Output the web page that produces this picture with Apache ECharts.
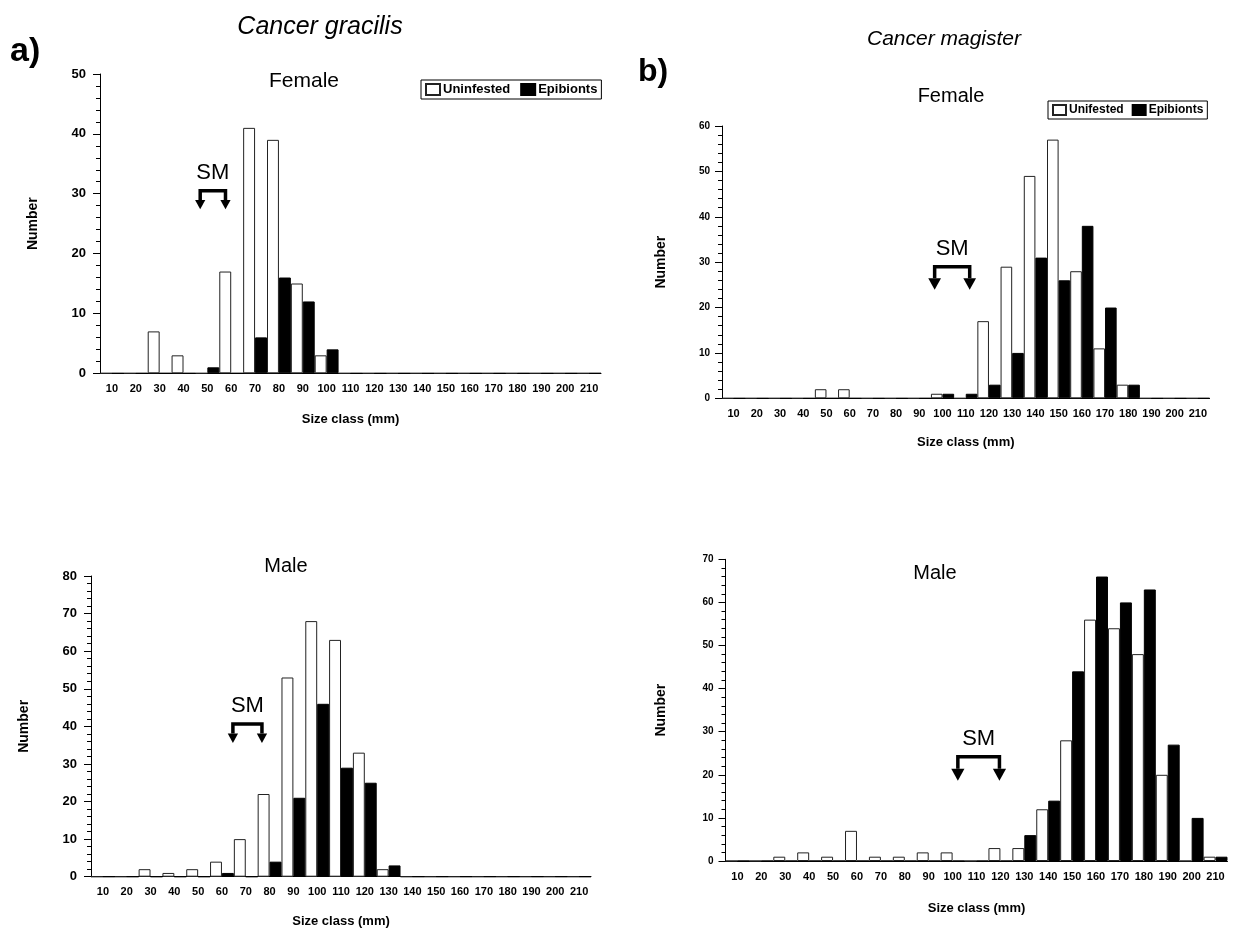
<!DOCTYPE html>
<html>
<head>
<meta charset="utf-8">
<script src="https://cdn.jsdelivr.net/npm/echarts@6/dist/echarts.min.js"></script>
<style>
html,body{margin:0;padding:0;background:#fff;}
#chart{width:1241px;height:932px;}
</style>
</head>
<body>
<div id="chart"></div>
<script>
// ---- Data ----
var sizeClasses = [10,20,30,40,50,60,70,80,90,100,110,120,130,140,150,160,170,180,190,200,210];

// Cancer gracilis, female
var gracFemUninfested = [0,0,7,3,0,17,41,39,15,3,0,0,0,0,0,0,0,0,0,0,0];
var gracFemEpibionts  = [0,0,0,0,1,0,6,16,12,4,0,0,0,0,0,0,0,0,0,0,0];
// Cancer gracilis, male
var gracMaleUninfested = [0,0,2,1,2,4,10,22,53,68,63,33,2,0,0,0,0,0,0,0,0];
var gracMaleEpibionts  = [0,0,0,0,0,1,0,4,21,46,29,25,3,0,0,0,0,0,0,0,0];
// Cancer magister, female
var magFemUninfested = [0,0,0,0,2,2,0,0,0,1,0,17,29,49,57,28,11,3,0,0,0];
var magFemEpibionts  = [0,0,0,0,0,0,0,0,0,1,1,3,10,31,26,38,20,3,0,0,0];
// Cancer magister, male
var magMaleUninfested = [0,0,1,2,1,7,1,1,2,2,0,3,3,12,28,56,54,48,20,0,1];
var magMaleEpibionts  = [0,0,0,0,0,0,0,0,0,0,0,0,6,14,44,66,60,63,27,10,1];

// Size at maturity brackets: [from mm, to mm, bracket top, arrow tip]
var smGracFemale = [47, 57.6, 30.5, 27.4];
var smGracMale   = [64.6, 76.8, 40.6, 35.6];
var smMagFemale  = [96.6, 111.7, 29.0, 23.9];
var smMagMale    = [102.2, 119.6, 24.2, 18.6];

var yMaxes = [50, 80, 60, 70];

// ---- Layout ----
var FONT = "'Liberation Sans', Arial, sans-serif";
var NARROW = "'Liberation Sans Narrow', 'Liberation Sans', Arial, sans-serif";
var grids = [
  {left:100, top:74, width:501, height:299.3},
  {left:91, top:576, width:500, height:300.7},
  {left:722, top:126, width:487.5, height:272.3},
  {left:725.5, top:559.3, width:502, height:301.7}
];
var yNameGaps = [60, 60, 54, 57];
var xNameGaps = [40, 38, 38, 41];
var yLabelSize = [13, 13, 10, 10];
var yLabelMargin = [14, 14, 12, 12];
var xLabelSize = [11, 11, 11, 11];

var panels = [
  {u: gracFemUninfested, e: gracFemEpibionts, uName:'Uninfested', sm: smGracFemale},
  {u: gracMaleUninfested, e: gracMaleEpibionts, uName:'Uninfested', sm: smGracMale},
  {u: magFemUninfested, e: magFemEpibionts, uName:'Unifested', sm: smMagFemale},
  {u: magMaleUninfested, e: magMaleEpibionts, uName:'Unifested', sm: smMagMale}
];

var xAxes = [], yAxes = [], series = [];
panels.forEach(function(p, i){
  xAxes.push({
    type:'category', gridIndex:i, data: sizeClasses.map(String), boundaryGap:true,
    axisLine:{lineStyle:{color:'#000', width:1}},
    axisTick:{alignWithLabel:true, length:7, lineStyle:{color:'#000'}},
    axisLabel:{color:'#000', fontWeight:'bold', fontSize:xLabelSize[i], fontFamily:FONT, margin:10, interval:0},
    name:'Size class (mm)', nameLocation:'middle', nameGap:xNameGaps[i],
    nameTextStyle:{color:'#000', fontWeight:'bold', fontSize:13, fontFamily:NARROW}
  });
  xAxes.push({type:'value', gridIndex:i, min:5, max:215, show:false});
  yAxes.push({
    type:'value', gridIndex:i, min:0, max:yMaxes[i], interval:10,
    splitLine:{show:false},
    axisLine:{show:true, lineStyle:{color:'#000', width:1}},
    axisTick:{show:true, length:7, lineStyle:{color:'#000'}},
    minorTick:{show:true, splitNumber:5, length:4, lineStyle:{color:'#000'}},
    axisLabel:{color:'#000', fontWeight:'bold', fontSize:yLabelSize[i], fontFamily:FONT, margin:yLabelMargin[i]},
    name:'Number', nameLocation:'middle', nameGap:yNameGaps[i], nameRotate:90,
    nameTextStyle:{color:'#000', fontWeight:'bold', fontSize:14, fontFamily:FONT}
  });
  series.push({
    type:'bar', name:p.uName, xAxisIndex:2*i, yAxisIndex:i, data:p.u,
    barGap:'0%', barCategoryGap:'0%',
    itemStyle:{color:'#fff', borderColor:'#222', borderWidth:1},
    emphasis:{disabled:true}, silent:true
  });
  series.push({
    type:'bar', name:'Epibionts', xAxisIndex:2*i, yAxisIndex:i, data:p.e,
    barGap:'0%', barCategoryGap:'0%',
    itemStyle:{color:'#000', borderColor:'#000', borderWidth:1},
    emphasis:{disabled:true}, silent:true
  });
  series.push({
    type:'custom', xAxisIndex:2*i+1, yAxisIndex:i, clip:false, silent:true,
    data:[p.sm],
    renderItem:function(params, api){
      var x1 = api.value(0), x2 = api.value(1), yt = api.value(2), yb = api.value(3);
      var a = api.coord([x1, yt]), b = api.coord([x2, yt]);
      var ab = api.coord([x1, yb]), bb = api.coord([x2, yb]);
      var total = ab[1] - a[1];
      var h = Math.min(12, total*0.5), hw = h*0.55;
      var legEnd = ab[1] - h;
      var style = {stroke:'#000', lineWidth:3.5, fill:null};
      return {type:'group', children:[
        {type:'polyline', shape:{points:[[a[0], legEnd],[a[0], a[1]],[b[0], b[1]],[b[0], legEnd]]}, style:style},
        {type:'polygon', shape:{points:[[ab[0]-hw, legEnd],[ab[0]+hw, legEnd],[ab[0], ab[1]]]}, style:{fill:'#000'}},
        {type:'polygon', shape:{points:[[bb[0]-hw, legEnd],[bb[0]+hw, legEnd],[bb[0], bb[1]]]}, style:{fill:'#000'}},
        {type:'text', style:{text:'SM', x:(a[0]+b[0])/2, y:a[1]-18, textAlign:'center', textVerticalAlign:'middle', fontSize:22, fontFamily:FONT, fill:'#000'}}
      ]};
    }
  });
});

var titleStyle = function(size, weight, style){
  return {color:'#000', fontSize:size, fontWeight:weight, fontStyle:style||'normal', fontFamily:FONT};
};

var option = {
  animation:false,
  backgroundColor:'#fff',
  title:[
    {text:'Cancer gracilis', left:320, top:15, textAlign:'center', padding:0, textStyle:titleStyle(25,'normal','italic')},
    {text:'Cancer magister', left:944, top:29, textAlign:'center', padding:0, textStyle:titleStyle(21,'normal','italic')},
    {text:'a)', left:10, top:35, padding:0, textStyle:titleStyle(34,'bold')},
    {text:'b)', left:638, top:56, padding:0, textStyle:titleStyle(32,'bold')},
    {text:'Female', left:304, top:71, textAlign:'center', padding:0, textStyle:titleStyle(21,'normal')},
    {text:'Female', left:951, top:86, textAlign:'center', padding:0, textStyle:titleStyle(20,'normal')},
    {text:'Male', left:286, top:556, textAlign:'center', padding:0, textStyle:titleStyle(20,'normal')},
    {text:'Male', left:935, top:563, textAlign:'center', padding:0, textStyle:titleStyle(20,'normal')}
  ],
  legend:[
    {data:['Uninfested','Epibionts'], left:421, top:80, orient:'horizontal', selectedMode:false,
     borderColor:'#000', borderWidth:1, padding:[3,4], itemWidth:14, itemHeight:11, itemGap:10,
     icon:'rect', textStyle:{color:'#000', fontWeight:'bold', fontSize:13, fontFamily:FONT, padding:[0,0,0,-2]}},
    {data:['Unifested','Epibionts'], left:1048, top:101, orient:'horizontal', selectedMode:false,
     borderColor:'#000', borderWidth:1, padding:[3,4], itemWidth:13, itemHeight:10, itemGap:8,
     icon:'rect', textStyle:{color:'#000', fontWeight:'bold', fontSize:12, fontFamily:FONT, padding:[0,0,0,-2]}}
  ],
  grid:grids,
  xAxis:xAxes,
  yAxis:yAxes,
  series:series
};

var chart = echarts.init(document.getElementById('chart'), null, {renderer:'canvas'});
chart.setOption(option);
</script>
</body>
</html>
